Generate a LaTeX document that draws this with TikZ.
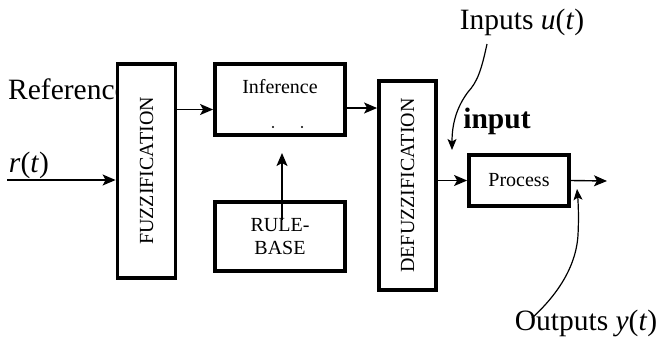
\documentclass[tikz,border=0pt]{standalone}
\usepackage{fontspec}
\setmainfont{Liberation Serif}
\usepackage{tikz}
\usetikzlibrary{arrows.meta, positioning, calc}

\begin{document}
\begin{tikzpicture}[
  x=1pt, y=-1pt,
  block/.style={rectangle, draw, line width=3.8pt, fill=white, inner sep=0pt,
                font=\fontsize{20}{23}\selectfont, align=center},
  biglabel/.style={font=\fontsize{29.5}{31}\selectfont, inner sep=0pt},
  arrow/.style={-{Stealth[length=13pt, width=11pt, inset=3pt]}, line width=1.4pt},
  curvearrow/.style={-{Stealth[length=11pt, width=9pt, inset=2.5pt]}, line width=1.2pt}
]
  \useasboundingbox (0,0) rectangle (658,349);

  \node[biglabel, anchor=west] (ref) at (8,89) {Reference};
  \node[biglabel] (rlabel) at (29,165) {\textit{r}(\textit{t})};

  \node[block, minimum width=58pt, minimum height=214pt] (fuzz) at (146.5,171)
    {\rotatebox{90}{FUZZIFICATION}};
  \node[block, minimum width=130pt, minimum height=71pt,
        label={[anchor=north, yshift=-14pt, font=\fontsize{20}{23}\selectfont]north:Inference}]
    (inf) at (280,99.5) {};
  \node[block, minimum width=130pt, minimum height=69pt] (rules) at (280,236.5)
    {RULE-\\BASE};
  \node[block, minimum width=57pt, minimum height=209pt] (defuzz) at (407.5,185.5)
    {\rotatebox{90}{DEFUZZIFICATION}};
  \node[block, minimum width=100pt, minimum height=51pt] (proc) at (519,180.5)
    {Process};

  \node[biglabel] (ulabel) at (522,22) {Inputs \textit{u}(\textit{t})};
  \node[biglabel, font=\fontsize{29.5}{31}\selectfont\bfseries] (inlabel) at (497,121) {input};
  \node[biglabel] (ylabel) at (586,323) {Outputs \textit{y}(\textit{t})};

  % dots inside the inference block
  \fill (273,127) circle (1.1pt);
  \fill (302,127) circle (1.1pt);

  \coordinate (rin) at (7,180);
  \coordinate (rbtop) at (282,153);
  \coordinate (rbin) at (282,220);
  \coordinate (yout) at (607,181);
  \coordinate (ustart) at (487,44);
  \coordinate (uend) at (452,150);
  \coordinate (ystart) at (532,318);
  \coordinate (yend) at (577,189);

  \draw[arrow] (rin) -- (rin -| fuzz.west);
  \draw[arrow] ([yshift=-10pt]inf.west -| fuzz.east) -- ([yshift=-10pt]inf.west);
  \draw[arrow] ([yshift=-8.5pt]inf.east) -- ([yshift=-8.5pt]inf.east -| defuzz.west);
  \draw[arrow] (rbin) -- (rbtop);
  \draw[arrow] (proc.west -| defuzz.east) -- (proc.west);
  \draw[arrow] (proc.east) -- (yout);

  \draw[curvearrow] (ustart) .. controls (481,72) and (477,82) .. (468,92)
    .. controls (456,108) and (452,125) .. (uend);
  \draw[curvearrow] (ystart) .. controls (556,296) and (576,268) .. (578,235)
    .. controls (579,215) and (578,200) .. (yend);
\end{tikzpicture}
\end{document}
